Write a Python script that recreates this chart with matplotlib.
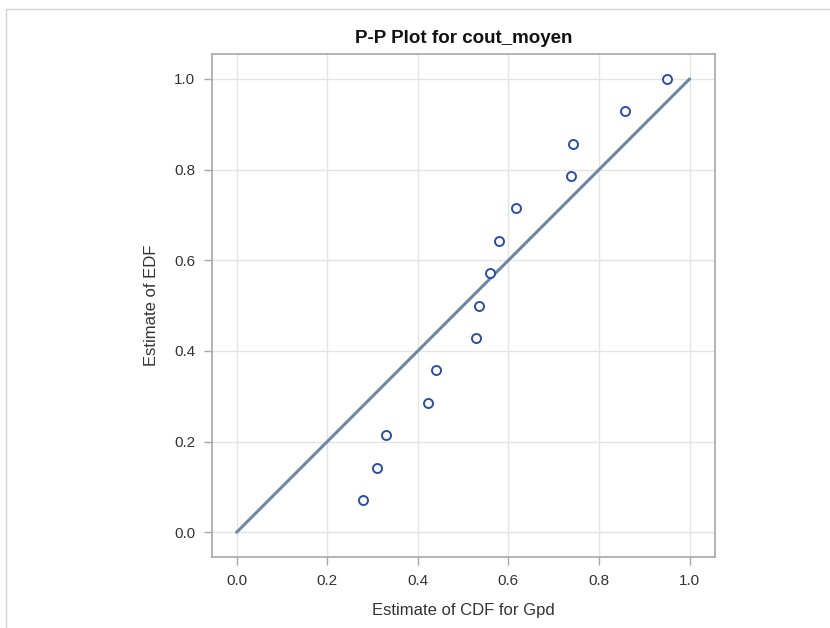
import matplotlib
matplotlib.use("Agg")
import matplotlib.pyplot as plt
from matplotlib.patches import Rectangle

plt.rcParams['font.family'] = ['Liberation Sans', 'DejaVu Sans']

cdf_gpd = [0.278, 0.309, 0.329, 0.422, 0.440, 0.528, 0.534, 0.559, 0.580, 0.617, 0.738, 0.742, 0.857, 0.951]
edf = [1/14, 2/14, 3/14, 4/14, 5/14, 6/14, 7/14, 8/14, 9/14, 10/14, 11/14, 12/14, 13/14, 14/14]
ref_line = [0.0, 1.0]
ticks = [0.0, 0.2, 0.4, 0.6, 0.8, 1.0]
tick_labels = ["0.0", "0.2", "0.4", "0.6", "0.8", "1.0"]

W, H = 830, 628
fig = plt.figure(figsize=(W/100, H/100), dpi=100)
ax = fig.add_axes([211.7/W, 1 - 557/H, (715 - 211.7)/W, (557 - 54)/H])

# figure frame
fig.patches.append(Rectangle((6/W, -0.1), 1.2, 1 - 9/H + 0.1, transform=fig.transFigure,
                             fill=False, edgecolor='#D4D4D4', linewidth=1.0))

ax.grid(True, color='#E4E4E4', linewidth=1.0)
ax.set_axisbelow(True)
ax.plot(ref_line, ref_line, color='#6F86A6', linewidth=2.2, solid_capstyle='round', zorder=2)
ax.plot(cdf_gpd, edf, linestyle='none', marker='o', markersize=6.5, markerfacecolor='white',
        markeredgecolor='#2D4FA3', markeredgewidth=1.4, zorder=3)

ax.set_xlim(-0.055, 1.056)
ax.set_ylim(-0.0545, 1.055)
ax.set_xticks(ticks)
ax.set_xticklabels(tick_labels)
ax.set_yticks(ticks)
ax.set_yticklabels(tick_labels)
for s in ax.spines.values():
    s.set_color('#A5A9AD')
    s.set_linewidth(1.2)
ax.tick_params(direction='out', length=6, width=1, color='#A5A9AD', labelcolor='#333333',
               labelsize=11, pad=6)

ax.set_xlabel("Estimate of CDF for Gpd", fontsize=12, color='#333333', labelpad=11)
ax.set_ylabel("Estimate of EDF", fontsize=12, color='#333333', labelpad=11)
ax.set_title("P-P Plot for cout_moyen", fontsize=13.5, fontweight='bold', color='#111111', pad=8)

fig.savefig("out.png", dpi=100, facecolor='white')
